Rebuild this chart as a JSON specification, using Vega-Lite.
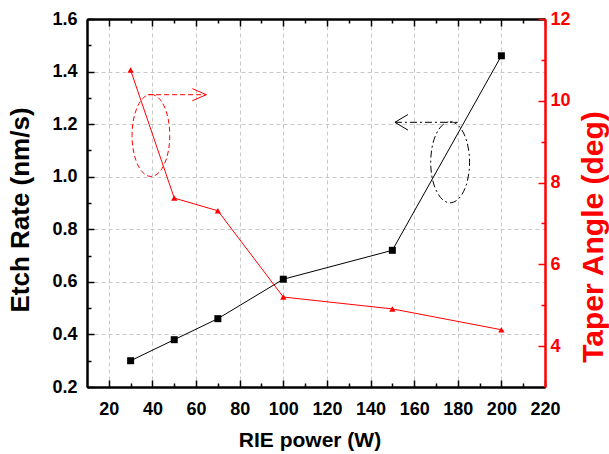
{
  "$schema": "https://vega.github.io/schema/vega-lite/v6.json",
  "width": 458,
  "height": 368,
  "autosize": {"type": "none"},
  "padding": {"left": 87, "top": 19, "right": 64, "bottom": 67},
  "background": "white",
  "config": {
    "font": "Liberation Sans",
    "view": {"stroke": null},
    "axis": {
      "labelFont": "Liberation Sans",
      "titleFont": "Liberation Sans",
      "labelFontWeight": "bold",
      "titleFontWeight": "bold",
      "labelFontSize": 18,
      "domainWidth": 2,
      "tickWidth": 1.5,
      "domainColor": "black",
      "tickColor": "black",
      "labelColor": "black",
      "titleColor": "black",
      "labelFlush": false,
      "labelOverlap": false
    }
  },
  "datasets": {
    "etch": [
      {"power": 30, "etch": 0.30},
      {"power": 50, "etch": 0.38},
      {"power": 70, "etch": 0.46},
      {"power": 100, "etch": 0.61},
      {"power": 150, "etch": 0.72},
      {"power": 200, "etch": 1.46}
    ],
    "taper": [
      {"power": 30, "taper": 10.75},
      {"power": 50, "taper": 7.62},
      {"power": 70, "taper": 7.31},
      {"power": 100, "taper": 5.2},
      {"power": 150, "taper": 4.91},
      {"power": 200, "taper": 4.4}
    ],
    "redEllipse": [{"power": 39.3, "value": 1.157}],
    "redArrow": [{"start": 38.0, "end": 64.7, "value": 1.312}],
    "blackEllipse": [{"power": 176.5, "value": 1.055}],
    "blackArrow": [{"start": 151.2, "end": 180.0, "value": 1.207}]
  },
  "resolve": {
    "scale": {"y": "independent"},
    "axis": {"x": "independent", "y": "independent"}
  },
  "layer": [
    {
      "data": {"name": "etch"},
      "mark": {"type": "line", "color": "black", "strokeWidth": 1},
      "encoding": {
        "x": {
          "field": "power", "type": "quantitative",
          "scale": {"domain": [10, 220], "nice": false, "zero": false},
          "axis": {
            "orient": "bottom",
            "values": [20, 40, 60, 80, 100, 120, 140, 160, 180, 200, 220],
            "tickSize": -7, "labelPadding": 20,
            "grid": true, "gridColor": "#c8c8c8", "gridDash": [4, 3], "gridWidth": 1,
            "title": "RIE power (W)", "titleFontSize": 21,
            "titleX": 222.5, "titleY": 53, "titleBaseline": "middle", "titleAlign": "center"
          }
        },
        "y": {
          "field": "etch", "type": "quantitative",
          "scale": {"domain": [0.2, 1.6], "nice": false, "zero": false},
          "axis": {
            "orient": "left",
            "values": [0.2, 0.4, 0.6, 0.8, 1.0, 1.2, 1.4, 1.6],
            "format": ".1f",
            "tickSize": -7, "labelPadding": 17,
            "grid": true, "gridColor": "#c8c8c8", "gridDash": [4, 3], "gridWidth": 1,
            "title": "Etch Rate (nm/s)", "titleFontSize": 26,
            "titleX": -67, "titleY": 190.5, "titleBaseline": "middle", "titleAlign": "center"
          }
        }
      }
    },
    {
      "data": {"name": "etch"},
      "mark": {"type": "point", "shape": "square", "filled": true, "color": "black", "size": 49, "opacity": 1},
      "encoding": {
        "x": {
          "field": "power", "type": "quantitative",
          "scale": {"domain": [10, 220], "nice": false, "zero": false},
          "axis": {
            "orient": "bottom",
            "values": [30, 50, 70, 90, 110, 130, 150, 170, 190, 210],
            "tickSize": -4, "labels": false, "grid": false, "title": null, "zindex": 1
          }
        },
        "y": {
          "field": "etch", "type": "quantitative",
          "scale": {"domain": [0.2, 1.6], "nice": false, "zero": false},
          "axis": {
            "orient": "left",
            "values": [0.3, 0.5, 0.7, 0.9, 1.1, 1.3, 1.5],
            "tickSize": -4, "labels": false, "grid": false, "title": null, "zindex": 1
          }
        }
      }
    },
    {
      "data": {"name": "taper"},
      "mark": {"type": "line", "color": "#ff0000", "strokeWidth": 1},
      "encoding": {
        "x": {
          "field": "power", "type": "quantitative",
          "scale": {"domain": [10, 220], "nice": false, "zero": false},
          "axis": {
            "orient": "top",
            "values": [20, 40, 60, 80, 100, 120, 140, 160, 180, 200, 220],
            "tickSize": -7, "labels": false, "grid": false, "title": null, "zindex": 1
          }
        },
        "y": {
          "field": "taper", "type": "quantitative",
          "scale": {"domain": [3, 12], "nice": false, "zero": false},
          "axis": {
            "orient": "right",
            "values": [4, 6, 8, 10, 12],
            "tickSize": -7, "labelPadding": 12,
            "grid": false,
            "domainColor": "#ff0000", "tickColor": "#ff0000", "labelColor": "#ff0000", "titleColor": "#ff0000",
            "title": "Taper Angle (deg)", "titleFontSize": 30, "titleAngle": 270,
            "titleX": 48, "titleY": 217.5, "titleBaseline": "middle", "titleAlign": "center",
            "zindex": 1
          }
        }
      }
    },
    {
      "data": {"name": "taper"},
      "mark": {"type": "point", "shape": "triangle-up", "filled": true, "color": "#ff0000", "size": 40, "opacity": 1},
      "encoding": {
        "x": {
          "field": "power", "type": "quantitative",
          "scale": {"domain": [10, 220], "nice": false, "zero": false},
          "axis": {
            "orient": "top",
            "values": [30, 50, 70, 90, 110, 130, 150, 170, 190, 210],
            "tickSize": -4, "labels": false, "grid": false, "title": null, "zindex": 1
          }
        },
        "y": {
          "field": "taper", "type": "quantitative",
          "scale": {"domain": [3, 12], "nice": false, "zero": false},
          "axis": {
            "orient": "right",
            "values": [5, 7, 9, 11],
            "tickSize": -4, "labels": false, "grid": false, "title": null,
            "domainColor": "#ff0000", "tickColor": "#ff0000", "zindex": 1
          }
        }
      }
    },
    {
      "data": {"name": "redEllipse"},
      "mark": {
        "type": "point", "filled": false, "color": "#ff0000", "opacity": 1, "strokeWidth": 1,
        "strokeDash": [5, 3], "size": 6724,
        "shape": "M0,-1C0.254,-1 0.46,-0.552 0.46,0C0.46,0.552 0.254,1 0,1C-0.254,1 -0.46,0.552 -0.46,0C-0.46,-0.552 -0.254,-1 0,-1Z"
      },
      "encoding": {
        "x": {"field": "power", "type": "quantitative", "scale": {"domain": [10, 220], "nice": false, "zero": false}, "axis": null},
        "y": {"field": "value", "type": "quantitative", "scale": {"domain": [0.2, 1.6], "nice": false, "zero": false}, "axis": null}
      }
    },
    {
      "data": {"name": "redArrow"},
      "mark": {"type": "rule", "color": "#ff0000", "strokeWidth": 1, "strokeDash": [5, 3]},
      "encoding": {
        "x": {"field": "start", "type": "quantitative", "scale": {"domain": [10, 220], "nice": false, "zero": false}, "axis": null},
        "x2": {"field": "end"},
        "y": {"field": "value", "type": "quantitative", "scale": {"domain": [0.2, 1.6], "nice": false, "zero": false}, "axis": null}
      }
    },
    {
      "data": {"name": "redArrow"},
      "mark": {"type": "point", "filled": false, "color": "#ff0000", "opacity": 1, "strokeWidth": 1, "size": 784, "shape": "M-1,-0.43L0,0L-1,0.43"},
      "encoding": {
        "x": {"field": "end", "type": "quantitative", "scale": {"domain": [10, 220], "nice": false, "zero": false}, "axis": null},
        "y": {"field": "value", "type": "quantitative", "scale": {"domain": [0.2, 1.6], "nice": false, "zero": false}, "axis": null}
      }
    },
    {
      "data": {"name": "blackEllipse"},
      "mark": {
        "type": "point", "filled": false, "color": "black", "opacity": 1, "strokeWidth": 1,
        "strokeDash": [7, 3, 2, 3], "size": 6561,
        "shape": "M0,-1C0.265,-1 0.48,-0.552 0.48,0C0.48,0.552 0.265,1 0,1C-0.265,1 -0.48,0.552 -0.48,0C-0.48,-0.552 -0.265,-1 0,-1Z"
      },
      "encoding": {
        "x": {"field": "power", "type": "quantitative", "scale": {"domain": [10, 220], "nice": false, "zero": false}, "axis": null},
        "y": {"field": "value", "type": "quantitative", "scale": {"domain": [0.2, 1.6], "nice": false, "zero": false}, "axis": null}
      }
    },
    {
      "data": {"name": "blackArrow"},
      "mark": {"type": "rule", "color": "black", "strokeWidth": 1, "strokeDash": [7, 3, 2, 3]},
      "encoding": {
        "x": {"field": "start", "type": "quantitative", "scale": {"domain": [10, 220], "nice": false, "zero": false}, "axis": null},
        "x2": {"field": "end"},
        "y": {"field": "value", "type": "quantitative", "scale": {"domain": [0.2, 1.6], "nice": false, "zero": false}, "axis": null}
      }
    },
    {
      "data": {"name": "blackArrow"},
      "mark": {"type": "point", "filled": false, "color": "black", "opacity": 1, "strokeWidth": 1, "size": 676, "shape": "M1,-0.6L0,0L1,0.6"},
      "encoding": {
        "x": {"field": "start", "type": "quantitative", "scale": {"domain": [10, 220], "nice": false, "zero": false}, "axis": null},
        "y": {"field": "value", "type": "quantitative", "scale": {"domain": [0.2, 1.6], "nice": false, "zero": false}, "axis": null}
      }
    }
  ]
}
